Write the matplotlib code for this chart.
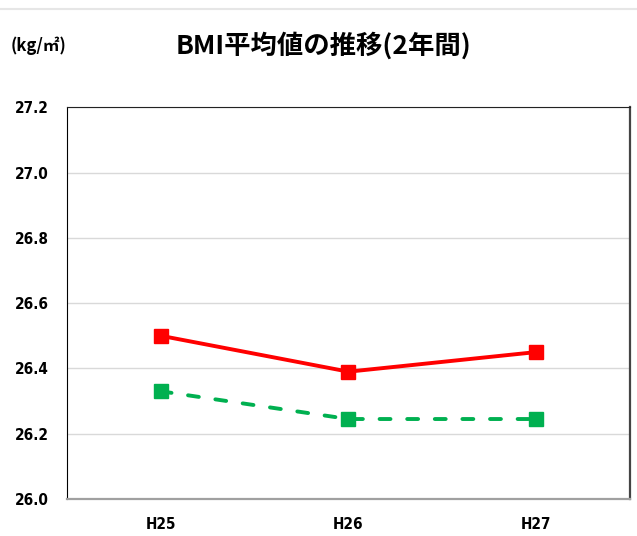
import matplotlib.pyplot as plt
from matplotlib.lines import Line2D

plt.rcParams['font.family'] = ['Noto Sans CJK JP', 'DejaVu Sans']

years = ['H25', 'H26', 'H27']
bmi_red = [26.50, 26.39, 26.45]
bmi_green = [26.33, 26.245, 26.245]
y_ticks = [26.0, 26.2, 26.4, 26.6, 26.8, 27.0, 27.2]

fig = plt.figure(figsize=(6.37, 5.36), dpi=100)
ax = fig.add_axes([0.105, 0.069, 0.884, 0.731])

x = range(len(years))
ax.plot(x, bmi_red, color='#FF0000', linewidth=2.8, marker='s', markersize=10.5,
        solid_joinstyle='miter')
ax.plot(x, bmi_green, color='#00B050', linewidth=2.8, marker='s', markersize=10.5,
        linestyle=(0, (2.8, 4.3)), dash_capstyle='round')

ax.set_xlim(-0.5, 2.5)
ax.set_ylim(26.0, 27.2)
ax.set_yticks(y_ticks)
ax.set_yticklabels([f'{v:.1f}' for v in y_ticks])
ax.set_xticks(list(x))
ax.set_xticklabels(years)
ax.grid(axis='y', color='#D9D9D9', linewidth=1)
ax.set_axisbelow(True)
ax.tick_params(length=0)
ax.tick_params(axis='y', pad=13)
ax.tick_params(axis='x', pad=13)
for lab in ax.get_xticklabels() + ax.get_yticklabels():
    lab.set_fontweight('bold')
    lab.set_fontsize(11)
    lab.set_family('DejaVu Sans')
    lab.set_fontstretch('condensed')

ax.spines['left'].set_color('black')
ax.spines['top'].set_color('#222222')
ax.spines['right'].set_color('#444444')
ax.spines['right'].set_linewidth(1.6)
ax.spines['bottom'].set_color('#A0A0A0')
ax.spines['bottom'].set_linewidth(1.6)

fig.text(0.508, 0.914, 'BMI平均値の推移(2年間)', ha='center', va='center',
         fontsize=19, fontweight='bold')
fig.text(0.017, 0.914, '(kg/㎡)', ha='left', va='center', fontsize=12,
         fontweight='bold')

fig.add_artist(Line2D([0, 1], [0.984, 0.984], transform=fig.transFigure,
                      color='#E6E6E6', linewidth=1.5))

fig.savefig('out.png', dpi=100)
